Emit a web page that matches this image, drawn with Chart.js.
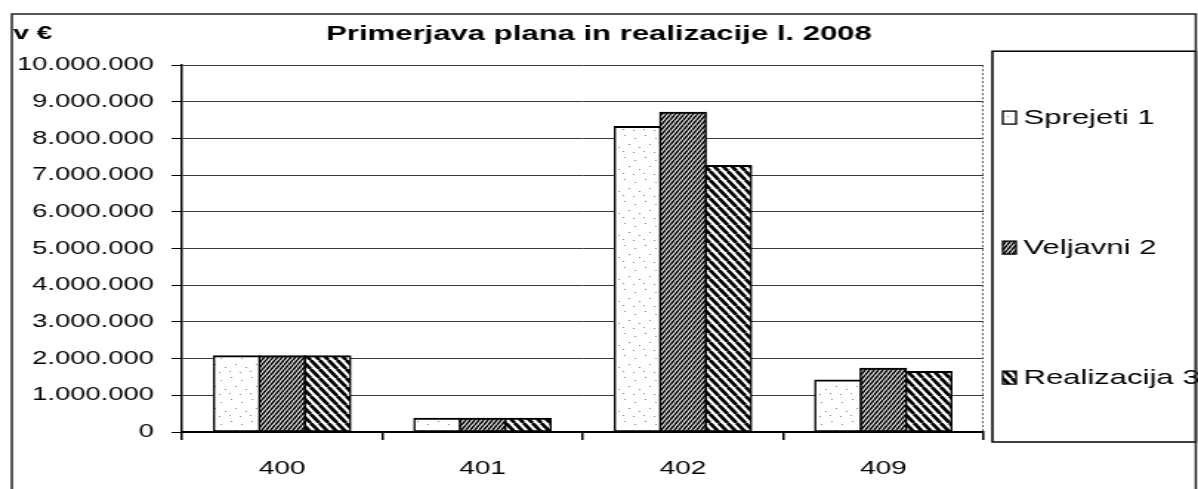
<!DOCTYPE html>
<html>
<head>
<meta charset="utf-8">
<title>Primerjava plana in realizacije l. 2008</title>
<script src="https://cdn.jsdelivr.net/npm/chart.js@4/dist/chart.umd.min.js"></script>
<style>
  html, body { margin: 0; padding: 0; background: #fff; }
</style>
</head>
<body>
<!-- the scanned chart is stretched sideways, so draw it narrow and widen it with css -->
<canvas id="chart" width="810" height="489" style="width:1198px;height:489px"></canvas>
<script>
const categories = ['400', '401', '402', '409'];
const seriesNames = ['Sprejeti 1', 'Veljavni 2', 'Realizacija 3'];
const sprejeti = [2070000, 365000, 8320000, 1410000];
const veljavni = [2070000, 365000, 8710000, 1730000];
const realizacija = [2070000, 365000, 7260000, 1640000];
const yMax = 10000000;
const yStep = 1000000;

const FONT = "'Liberation Sans', Arial, sans-serif";
const ctx = document.getElementById('chart').getContext('2d');

// white with a few grey specks
function dotPattern() {
    const c = document.createElement('canvas');
    c.width = 14;
    c.height = 22;
    const g = c.getContext('2d');
    g.fillStyle = '#fff';
    g.fillRect(0, 0, 14, 22);
    g.fillStyle = '#8a8a8a';
    [[2, 3], [9, 6], [5, 12], [12, 15], [1, 19], [8, 20]].forEach(([x, y]) => g.fillRect(x, y, 1, 1));
    return ctx.createPattern(c, 'repeat');
}

// diagonal hatch, forward = "/" otherwise "\"
function hatchPattern(w, h, lw, forward) {
    const c = document.createElement('canvas');
    c.width = w;
    c.height = h;
    const g = c.getContext('2d');
    g.fillStyle = '#fff';
    g.fillRect(0, 0, w, h);
    g.strokeStyle = '#000';
    g.lineWidth = lw;
    g.beginPath();
    for (const dx of [-w, 0, w]) {
        if (forward) {
            g.moveTo(dx, h);
            g.lineTo(dx + w, 0);
        } else {
            g.moveTo(dx, 0);
            g.lineTo(dx + w, h);
        }
    }
    g.stroke();
    return ctx.createPattern(c, 'repeat');
}

function formatThousands(v) {
    return String(v).replace(/\B(?=(\d{3})+(?!\d))/g, '.');
}

function drawLegend(chart) {
    const g = chart.ctx;
    const area = chart.chartArea;
    const left = area.right + 6;
    const top = area.top - 14;
    const bottom = area.bottom + 10;
    const right = chart.width - 1.5;
    g.save();
    g.strokeStyle = '#000';
    g.lineWidth = 1.5;
    g.strokeRect(left, top, right - left, bottom - top);

    const mid = (top + bottom) / 2 + 1;
    g.font = `21px ${FONT}`;
    g.textBaseline = 'middle';
    chart.data.datasets.forEach((ds, i) => {
        const y = mid + (i - 1) * 130;
        g.fillStyle = ds.backgroundColor;
        g.fillRect(left + 7, y - 6.5, 9, 13);
        g.lineWidth = 1.3;
        g.strokeRect(left + 7, y - 6.5, 9, 13);
        g.fillStyle = '#000';
        g.fillText(ds.label, left + 21, y + 1);
    });
    g.restore();
}

// legend sits in its own layout box on the right
const sideLegend = {
    id: 'sideLegend',
    beforeInit(chart) {
        Chart.layouts.addBox(chart, {
            position: 'right',
            weight: 0,
            fullSize: false,
            options: {},
            isHorizontal() { return false; },
            update(maxWidth, maxHeight) {
                this.width = 145;
                this.height = maxHeight;
            },
            draw() { drawLegend(chart); }
        });
    }
};

// outer frame, unit label and plot edge
const frame = {
    id: 'frame',
    afterDraw(chart) {
        const g = chart.ctx;
        const area = chart.chartArea;
        g.save();
        g.strokeStyle = '#222';
        g.lineWidth = 1.5;
        g.strokeRect(8, 14, chart.width - 9.5, chart.height + 20);

        g.strokeStyle = '#555';
        g.lineWidth = 1;
        g.setLineDash([2, 2]);
        g.beginPath();
        g.moveTo(area.right - 0.5, area.top);
        g.lineTo(area.right - 0.5, area.bottom);
        g.stroke();
        g.setLineDash([]);

        g.fillStyle = '#000';
        g.font = `bold 19px ${FONT}`;
        g.textBaseline = 'middle';
        g.fillText('v €', 9, 34);
        g.restore();
    }
};

const fills = [dotPattern(), hatchPattern(3, 5, 1.6, true), hatchPattern(6, 9, 2.7, false)];

new Chart(ctx, {
    type: 'bar',
    data: {
        labels: categories,
        datasets: [sprejeti, veljavni, realizacija].map((values, i) => ({
            label: seriesNames[i],
            data: values,
            backgroundColor: fills[i],
            borderColor: '#000',
            borderWidth: { top: 2, bottom: 2, left: 1.5, right: 1.5 },
            borderSkipped: false,
            inflateAmount: 0.8,
            categoryPercentage: 0.68,
            barPercentage: 1.0
        }))
    },
    options: {
        responsive: false,
        devicePixelRatio: 1,
        animation: false,
        layout: { padding: 0 },
        font: { family: FONT },
        plugins: {
            legend: { display: false },
            tooltip: { enabled: false },
            title: {
                display: true,
                text: 'Primerjava plana in realizacije l. 2008',
                color: '#000',
                font: { family: FONT, size: 21, weight: 'bold' },
                padding: { top: 22, bottom: 18 }
            }
        },
        scales: {
            x: {
                grid: { offset: true, drawOnChartArea: false, tickLength: 8, color: '#000', lineWidth: 1.5 },
                border: { color: '#000', width: 2 },
                ticks: { color: '#000', font: { family: FONT, size: 19 }, padding: 17 },
                afterFit(scale) { scale.height = 57; }
            },
            y: {
                min: 0,
                max: yMax,
                ticks: {
                    stepSize: yStep,
                    color: '#000',
                    font: { family: FONT, size: 18.5 },
                    padding: 12,
                    callback: (value) => formatThousands(value)
                },
                grid: { color: '#3a3a3a', lineWidth: 1, tickLength: 7, tickColor: '#000' },
                border: { color: '#000', width: 1.5 },
                afterFit(scale) { scale.width = 123; }
            }
        }
    },
    plugins: [sideLegend, frame]
});
</script>
</body>
</html>
